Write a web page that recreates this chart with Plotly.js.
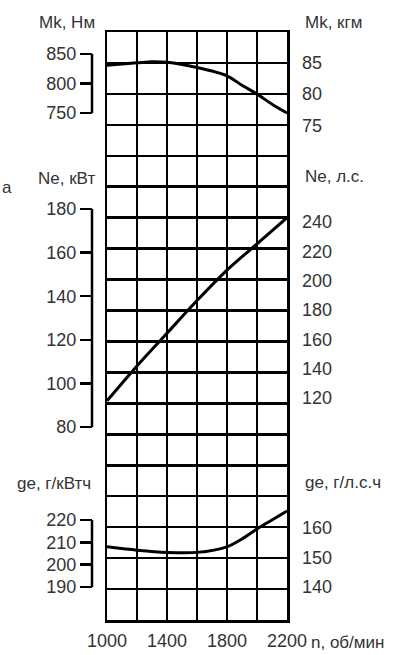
<!DOCTYPE html>
<html><head><meta charset="utf-8">
<script src="https://cdn.plot.ly/plotly-3.0.1.min.js"></script>
<style>html,body{margin:0;padding:0;background:#fff;}#chart{width:397px;height:655px;}</style>
</head><body><div id="chart"></div>
<script>
// ---- data ----
const rpmGrid = [1000, 1200, 1400, 1600, 1800, 2000, 2200];
const rpmLabels = ['1000', '', '1400', '', '1800', '', '2200'];

const torqueRpm = [1000, 1200, 1300, 1400, 1600, 1800, 1900, 2000, 2100, 2200];
const torqueNm  = [831, 835, 837, 836, 827, 813, 797, 782, 765, 750];

const powerRpm = [1000, 1200, 1400, 1600, 1800, 2000, 2200];
const powerKw  = [92, 108, 123, 138, 152, 164, 176];

const fuelRpm = [1000, 1200, 1400, 1600, 1800, 1900, 2000, 2100, 2200];
const fuelGkwh = [208, 206.5, 205.5, 205.5, 208, 211.5, 216, 220, 224];

const mkNmTicks  = [750, 800, 850];
const mkKgmTicks = [75, 80, 85];
const neKwTicks  = [80, 100, 120, 140, 160, 180];
const neHpTicks  = [120, 140, 160, 180, 200, 220, 240];
const geKwhTicks = [190, 200, 210, 220];
const geHpTicks  = [140, 150, 160];
const gridRows = Array.from({length: 20}, (_, i) => i);

// ---- geometry (pixels) ----
const plotL = 107, plotR = 287, plotT = 32, plotB = 620;
const paperW = plotR;
const bracketX = 92;
function pxX(px) { return px / paperW; }
function pxY(py) { return (plotB - py) / (plotB - plotT); }
function rangeFor(p0, v0, s) { return [v0 - (plotB - p0) / s, v0 + (p0 - plotT) / s]; }

const FONT = "'Liberation Sans', Arial, sans-serif";
const TXT = '#333';
const tickFont = {family: FONT, size: 18, color: TXT};

function leftAxis(range, ticks) {
  return {overlaying: 'y', anchor: 'free', position: pxX(bracketX), side: 'left',
    range: range, tickmode: 'array', tickvals: ticks, ticks: 'outside', ticklen: 12,
    tickwidth: 2.5, tickcolor: '#000', showline: false, showgrid: false, zeroline: false,
    tickfont: tickFont, fixedrange: true};
}
function rightAxis(range, ticks) {
  return {overlaying: 'y', anchor: 'free', position: 1, side: 'right',
    range: range, tickmode: 'array', tickvals: ticks, ticks: '', ticklabelstandoff: 14,
    showline: false, showgrid: false, zeroline: false, tickfont: tickFont, fixedrange: true};
}

const curve = {color: '#000', width: 3, shape: 'spline', smoothing: 0.8};
const traces = [
  {x: [null], y: [null], mode: 'lines', showlegend: false, hoverinfo: 'skip'},
  {x: torqueRpm, y: torqueNm, yaxis: 'y2', mode: 'lines', line: curve, showlegend: false, hoverinfo: 'skip'},
  {x: powerRpm, y: powerKw, yaxis: 'y4', mode: 'lines', line: curve, showlegend: false, hoverinfo: 'skip'},
  {x: fuelRpm, y: fuelGkwh, yaxis: 'y6', mode: 'lines', line: curve, showlegend: false, hoverinfo: 'skip'},
  {x: [null], y: [null], yaxis: 'y3', mode: 'lines', showlegend: false, hoverinfo: 'skip'},
  {x: [null], y: [null], yaxis: 'y5', mode: 'lines', showlegend: false, hoverinfo: 'skip'},
  {x: [null], y: [null], yaxis: 'y7', mode: 'lines', showlegend: false, hoverinfo: 'skip'}
];

function bracket(yref, ticks) {
  return {type: 'line', xref: 'paper', yref: yref, x0: pxX(bracketX), x1: pxX(bracketX),
    y0: Math.min(...ticks), y1: Math.max(...ticks), line: {color: '#000', width: 2.5}};
}
function label(text, px, py, anchor) {
  return {text: text, xref: 'paper', yref: 'paper', x: pxX(px), y: pxY(py), xanchor: anchor,
    yanchor: 'middle', showarrow: false, font: {family: FONT, size: 17, color: TXT}};
}

const layout = {
  width: 397, height: 655,
  margin: {l: 0, r: 397 - plotR, t: plotT, b: 655 - plotB},
  paper_bgcolor: '#fff', plot_bgcolor: 'rgba(0,0,0,0)',
  showlegend: false,
  xaxis: {domain: [pxX(plotL), 1], range: [1000, 2200], tickmode: 'array', tickvals: rpmGrid,
    ticktext: rpmLabels, showgrid: true, gridcolor: '#000', gridwidth: 2.5, showline: true,
    mirror: true, linecolor: '#000', linewidth: 2.5, ticks: '', zeroline: false,
    tickfont: tickFont, ticklabelstandoff: 3, fixedrange: true},
  yaxis: {range: [0, 19], tickmode: 'array', tickvals: gridRows, showticklabels: false,
    showgrid: true, gridcolor: '#000', gridwidth: 2.5, showline: true, mirror: true,
    linecolor: '#000', linewidth: 2.5, ticks: '', zeroline: false, fixedrange: true},
  yaxis2: leftAxis(rangeFor(54, 850, 0.59), mkNmTicks),
  yaxis3: rightAxis(rangeFor(94, 80, 6.3), mkKgmTicks),
  yaxis4: leftAxis(rangeFor(209, 180, 2.18), neKwTicks),
  yaxis5: rightAxis(rangeFor(222, 240, 1.467), neHpTicks),
  yaxis6: leftAxis(rangeFor(520, 220, 2.233), geKwhTicks),
  yaxis7: rightAxis(rangeFor(528, 160, 2.95), geHpTicks),
  shapes: [bracket('y2', mkNmTicks), bracket('y4', neKwTicks), bracket('y6', geKwhTicks)],
  annotations: [
    label('Mk, Нм', 37, 23, 'left'),
    label('Mk, кгм', 303, 23, 'left'),
    label('Ne, кВт', 36, 178, 'left'),
    label('Ne, л.с.', 303, 176, 'left'),
    label('ge, г/кВтч', 15, 483, 'left'),
    label('ge, г/л.с.ч', 303, 482, 'left'),
    label('n, об/мин', 309, 642, 'left'),
    label('а', 0, 187, 'left')
  ]
};

Plotly.newPlot('chart', traces, layout, {staticPlot: true, displayModeBar: false});
</script>
</body></html>
